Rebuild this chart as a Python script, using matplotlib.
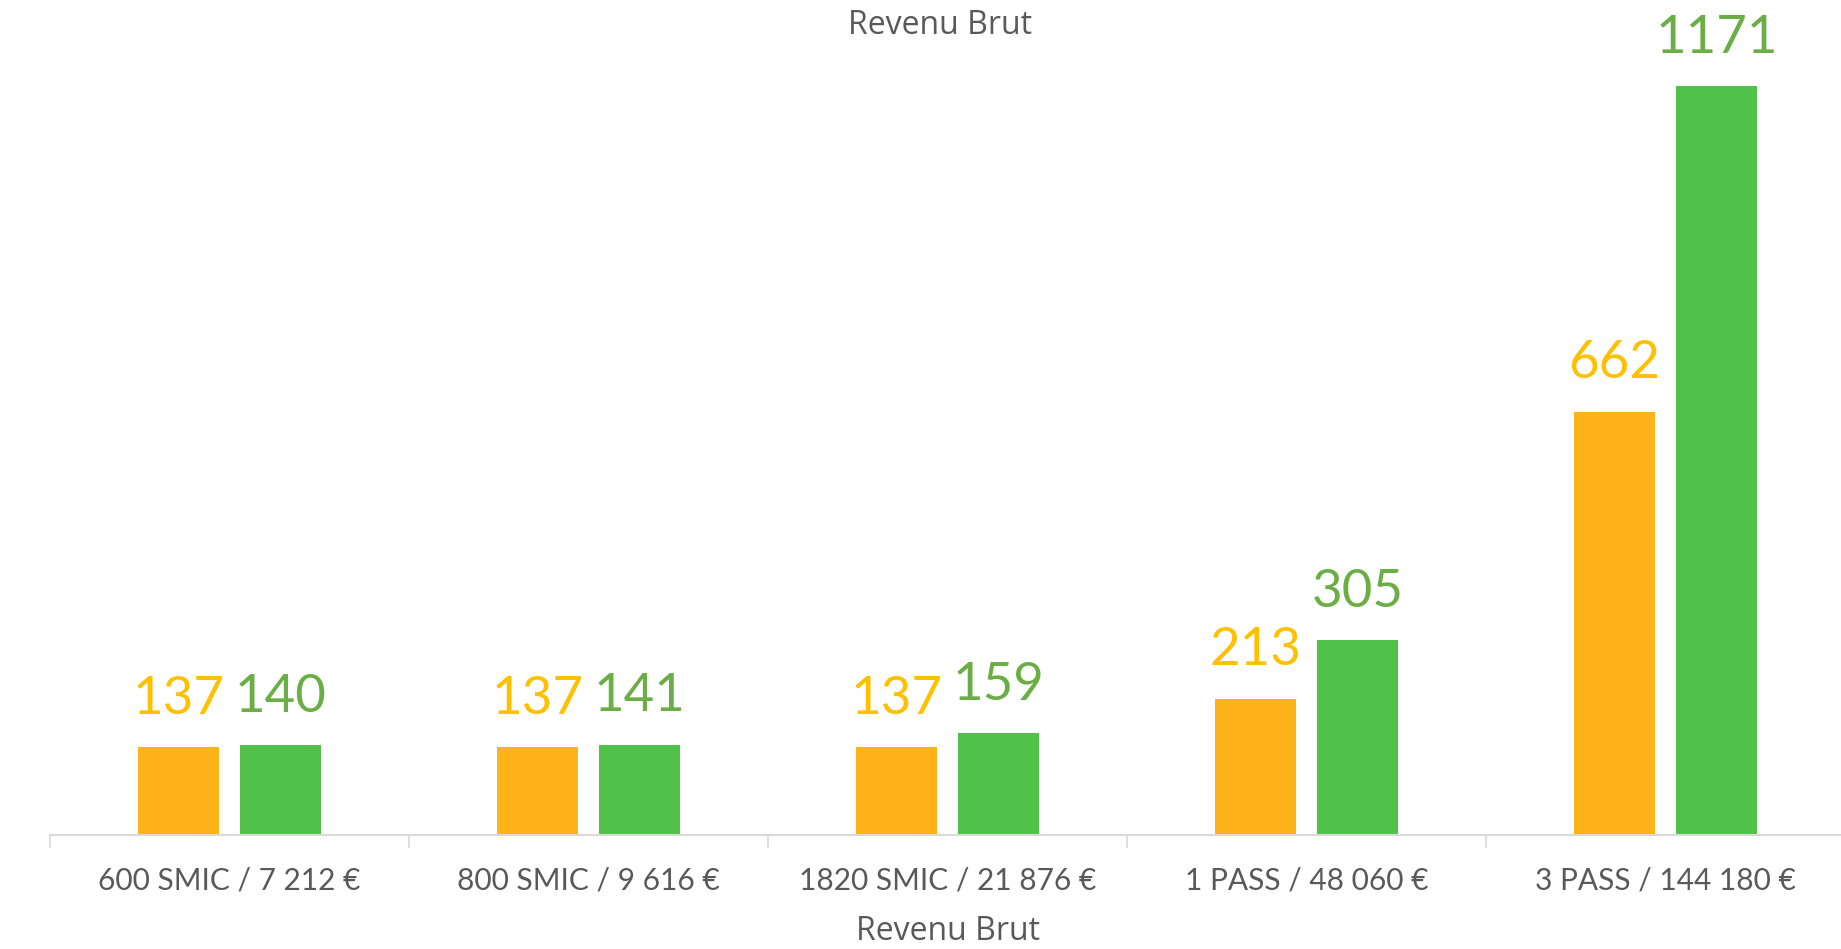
import numpy as np
import matplotlib
matplotlib.use("Agg")
import matplotlib.pyplot as plt

# data
categories = ["600 SMIC / 7 212 €", "800 SMIC / 9 616 €", "1820 SMIC / 21 876 €",
              "1 PASS / 48 060 €", "3 PASS / 144 180 €"]
series_a = [137, 137, 137, 213, 662]
series_b = [140, 141, 159, 305, 1171]

bar_colors = ["#FFB31A", "#51C249"]
label_colors = ["#FFC000", "#6AAE45"]
grey = "#595959"

fig = plt.figure(figsize=(18.41, 9.49), dpi=100)
ax = fig.add_axes([50 / 1841, 114 / 949, 5 * 359 / 1841, 749 / 949])

x = np.arange(len(categories))
w = 0.226
off = 0.143

for vals, dx, bc, lc in [(series_a, -off, bar_colors[0], label_colors[0]),
                         (series_b, off, bar_colors[1], label_colors[1])]:
    bars = ax.bar(x + dx, vals, width=w, color=bc, zorder=2)
    for b, v in zip(bars, vals):
        ax.annotate(str(v), (b.get_x() + b.get_width() / 2, v),
                    xytext=(0, 24), textcoords="offset points",
                    ha="center", va="baseline", color=lc,
                    fontsize=38, family=["Lato", "DejaVu Sans"],
                    annotation_clip=False)

ax.set_xlim(-0.5, len(categories) - 0.5)
ax.set_ylim(0, 1171)

for s in ["top", "right", "left"]:
    ax.spines[s].set_visible(False)
ax.spines["bottom"].set_color("#D9D9D9")
ax.spines["bottom"].set_linewidth(1.5)
ax.set_yticks([])

ax.set_xticks(x)
ax.set_xticklabels(categories, color=grey, fontsize=21.5, family=["Lato", "DejaVu Sans"])
ax.tick_params(axis="x", which="major", length=0, pad=23)
ax.set_xticks(np.arange(len(categories) + 1) - 0.5, minor=True)
ax.tick_params(axis="x", which="minor", length=9.5, width=1.2, color="#D9D9D9")

fig.text(940 / 1841, 1 - 25 / 949, "Revenu Brut", ha="center", va="center",
         color=grey, fontsize=23, family=["Open Sans", "DejaVu Sans"])
fig.text(948 / 1841, 1 / 949, "Revenu Brut", ha="center", va="bottom",
         color=grey, fontsize=23, family=["Open Sans", "DejaVu Sans"])

fig.savefig("out.png", dpi=100)
